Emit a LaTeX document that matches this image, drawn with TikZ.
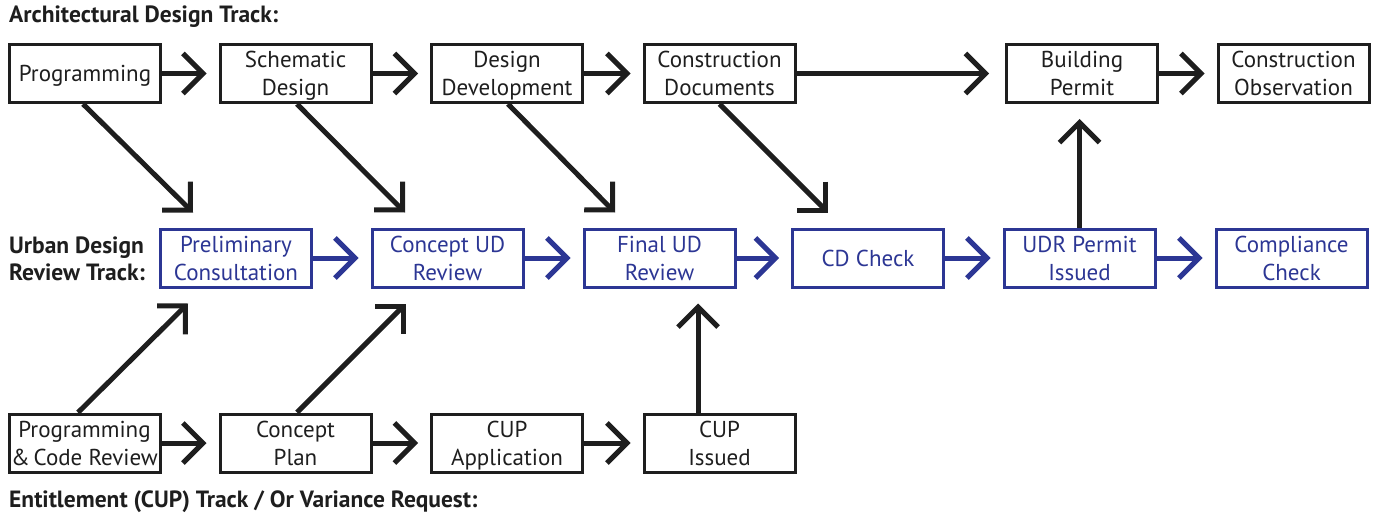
\documentclass[tikz,border=0pt]{standalone}
\usepackage{fontspec}
\setmainfont{PT Sans}
\usetikzlibrary{arrows.meta}
\definecolor{udblue}{RGB}{44,54,148}
\definecolor{ink}{RGB}{30,30,30}
\newcommand\bxs{\rule[-6pt]{0pt}{28pt}}
\tikzset{
  box/.style={draw=ink, line width=3pt, minimum width=151pt, minimum height=58pt, inner sep=0pt, align=center, text=ink, font=\fontsize{23}{28}\selectfont},
  bbox/.style={box, draw=udblue, text=udblue},
  arr/.style={draw=ink, line width=5pt, -{Straight Barb[length=20pt,width=40pt]}},
  barr/.style={arr, draw=udblue},
  hgap/.style={shorten >=12pt},
  lbl/.style={font=\bfseries\fontsize{23.5}{27}\selectfont, text=ink, inner sep=0pt, align=left}
}
\begin{document}
\begin{tikzpicture}[x=1pt,y=-1pt]
\useasboundingbox (0,0) rectangle (1378,516);
% labels
\node[lbl, anchor=base west] (tA) at (9,23) {Architectural Design Track:};
\node[lbl, anchor=base west] (tU1) at (9,253) {Urban Design};
\node[lbl, anchor=base west] (tU2) at (9,280) {Review Track:};
\node[lbl, anchor=base west] (tE) at (9,507) {Entitlement (CUP) Track / Or Variance Request:};
% top row
\node[box] (prog) at (85,73.5) {\bxs Programming};
\node[box] (sch) at (295.5,73.5) {\bxs Schematic\\\bxs Design};
\node[box] (dd) at (507,73.5) {\bxs Design\\\bxs Development};
\node[box] (cd) at (719.5,73.5) {\bxs Construction\\\bxs Documents};
\node[box] (bp) at (1082,73.5) {\bxs Building\\\bxs Permit};
\node[box] (co) at (1293.5,73.5) {\bxs Construction\\\bxs Observation};
% middle row
\node[bbox] (pre) at (236,258) {\bxs Preliminary\\\bxs Consultation};
\node[bbox] (cud) at (447.5,258) {\bxs Concept UD\\\bxs Review};
\node[bbox] (fud) at (659.5,258) {\bxs Final UD\\\bxs Review};
\node[bbox] (cdc) at (868,258) {\bxs CD Check};
\node[bbox] (udr) at (1079.5,258) {\bxs UDR Permit\\\bxs Issued};
\node[bbox] (cc) at (1291.5,258) {\bxs Compliance\\\bxs Check};
% bottom row
\node[box] (pcr) at (84.5,443) {\bxs Programming\\\bxs \&\,Code Review};
\node[box] (cp) at (295.5,443) {\bxs Concept\\\bxs Plan};
\node[box] (cupa) at (507,443) {\bxs CUP\\\bxs Application};
\node[box] (cupi) at (719.5,443) {\bxs CUP\\\bxs Issued};
% horizontal arrows top
\draw[arr,hgap] (prog) -- (sch);
\draw[arr,hgap] (sch) -- (dd);
\draw[arr,hgap] (dd) -- (cd);
\draw[arr,shorten >=16pt] (cd) -- (bp);
\draw[arr,hgap] (bp) -- (co);
% horizontal arrows middle
\draw[barr,hgap] (pre) -- (cud);
\draw[barr,hgap] (cud) -- (fud);
\draw[barr,hgap] (fud) -- (cdc);
\draw[barr,hgap] (cdc) -- (udr);
\draw[barr,hgap] (udr) -- (cc);
% horizontal arrows bottom
\draw[arr,hgap] (pcr) -- (cp);
\draw[arr,hgap] (cp) -- (cupa);
\draw[arr,hgap] (cupa) -- (cupi);
% diagonals from top
\draw[arr] ([xshift=-2pt]prog.south) -- ([xshift=-43pt,yshift=15pt]pre.north);
\draw[arr] ([xshift=1.5pt]sch.south) -- ([xshift=-42.5pt,yshift=15pt]cud.north);
\draw[arr] ([xshift=1pt]dd.south) -- ([xshift=-44.5pt,yshift=15pt]fud.north);
\draw[arr] (cd.south) -- ([xshift=-40pt,yshift=15pt]cdc.north);
% diagonals from bottom
\draw[arr] ([xshift=-6.5pt]pcr.north) -- ([xshift=-48pt,yshift=-15pt]pre.south);
\draw[arr] ([xshift=1.5pt]cp.north) -- ([xshift=-41.5pt,yshift=-15pt]cud.south);
\draw[arr] ([xshift=-21.5pt]cupi.north) -- ([xshift=38.5pt,yshift=-15pt]fud.south);
% up arrow
\draw[arr] (udr.north) -- ([yshift=-15pt]bp.south -| udr.north);
\end{tikzpicture}
\end{document}
